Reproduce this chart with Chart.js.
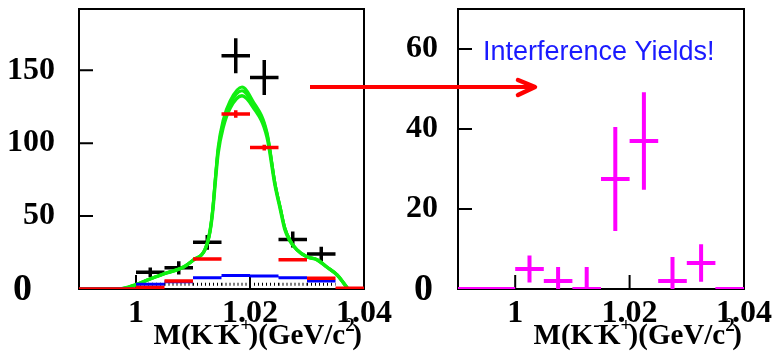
<!DOCTYPE html>
<html>
<head>
<meta charset="utf-8">
<script src="https://cdn.jsdelivr.net/npm/chart.js@4.4.0/dist/chart.umd.min.js"></script>
<style>
  html, body { margin: 0; padding: 0; background: #fff; }
  #wrap { position: relative; width: 776px; height: 351px; overflow: hidden; }
  #left { position: absolute; left: 0; top: 0; }
  #right { position: absolute; left: 388px; top: 0; }
  #arrow { position: absolute; left: 0; top: 0; pointer-events: none; }
</style>
</head>
<body>
<div id="wrap">
  <canvas id="left" width="420" height="351"></canvas>
  <canvas id="right" width="388" height="351"></canvas>
  <svg id="arrow" width="776" height="351">
    <line x1="310" y1="87" x2="532" y2="87" stroke="#ff0000" stroke-width="4"/>
    <polyline points="518,80 535,87 518,95" fill="none" stroke="#ff0000" stroke-width="4.5" stroke-linejoin="round" stroke-linecap="round"/>
  </svg>
</div>
<script>
// bins of M(K-K+), 5 MeV wide
const binCenters = [0.9925, 0.9975, 1.0025, 1.0075, 1.0125, 1.0175, 1.0225, 1.0275, 1.0325, 1.0375];
const binHalf = 0.0025;

// left panel
const dataCounts = [null, null, 11.5, 14.5, 32, 160, 145, 34, 24, null];
const dataErrors = [0, 0, 3.2, 4.5, 5, 12, 12, 5.5, 5, 0];
const redYield = [0, 0, 1, 5.5, 20.5, 120, 97, 20, 7.3, 0.5];
const redErrors = [0, 0, 0, 0, 0, 2.5, 2, 0, 0, 0];
const blueYield = [0, 0, 3.2, 5, 7.8, 9.2, 8.9, 7.8, 5.5, null];
const bkgYield = [null, null, 3.3, 3.3, 3.3, 3.3, 3.3, 3.3, 3.3, null];

const fitMass = [0.99, 0.997, 1.0, 1.0025, 1.0054, 1.0083, 1.0101, 1.0121, 1.013, 1.0135, 1.0139, 1.0144,
  1.0153, 1.0165, 1.0186, 1.0205, 1.023, 1.0244, 1.0253, 1.0261, 1.027, 1.0282, 1.030, 1.0318, 1.0335, 1.0353, 1.0372];
const fitHigh = [0, 0, 3, 7, 11, 15, 20, 27, 40, 56, 75, 97,
  116, 129, 138.5, 129, 107, 72, 56, 42, 33.5, 27, 22, 20, 15, 9.6, 0];
const fitMid = [0, 0, 3, 7, 11, 15, 20, 27, 40, 56, 74, 95,
  114, 127, 136, 127, 106, 72, 56, 42, 33.5, 27, 22, 20, 15, 9.6, 0];
const fitLow = [0, 0, 3, 7, 11, 15, 20, 27, 40, 55, 73, 93,
  111, 124, 132.5, 125, 104, 71, 55, 41, 33, 27, 22, 20, 15, 9.6, 0];

// right panel
const interfYield = [0, 0, 5, 2, 0, 27.5, 37, 2, 6.5, 0];
const interfErrors = [0, 0, 3.4, 3.5, 5.5, 13, 12.2, 6, 4.7, 0];

const xTicks = [1, 1.02, 1.04];
const xTickLabels = ['1', '1.02', '1.04'];
const leftYTicks = [0, 50, 100, 150];
const rightYTicks = [0, 20, 40, 60];
const axisTitleParts = [['M(K', false], ['-', true], ['K', false], ['+', true], [')(GeV/c', false], ['2', true], [')', false]];
const noteText = 'Interference Yields!';

// horizontal bar over each bin, plus vertical error bar
function crossPoints(values, errors) {
    const pts = [];
    binCenters.forEach((c, i) => {
        const v = values[i];
        if (v === null) return;
        pts.push({x: c - binHalf, y: v}, {x: c + binHalf, y: v}, {x: c, y: null});
        if (errors && errors[i] > 0) {
            pts.push({x: c, y: v - errors[i]}, {x: c, y: v + errors[i]}, {x: c, y: null});
        }
    });
    return pts;
}

function curvePoints(values) {
    return fitMass.map((m, i) => ({x: m, y: values[i]}));
}

const serif = '"Liberation Serif", "Times New Roman", serif';

const panelDecor = {
    id: 'panelDecor',
    beforeDatasetsDraw(chart, args, opts) {
        const {ctx, chartArea: a} = chart;
        const xs = chart.scales.x, ys = chart.scales.y;
        ctx.save();
        ctx.strokeStyle = '#000';
        ctx.lineWidth = 2;
        ctx.strokeRect(a.left, a.top, a.right - a.left, a.bottom - a.top);
        ctx.beginPath();
        xTicks.forEach(v => {
            const px = xs.getPixelForValue(v);
            ctx.moveTo(px, a.bottom);
            ctx.lineTo(px, a.bottom - 14);
        });
        opts.yTicks.forEach(v => {
            const py = ys.getPixelForValue(v);
            ctx.moveTo(a.left, py);
            ctx.lineTo(a.left + 14, py);
        });
        ctx.stroke();
        ctx.restore();
    },
    afterDraw(chart, args, opts) {
        const {ctx, chartArea: a} = chart;
        const ys = chart.scales.y;
        ctx.save();
        ctx.fillStyle = '#000';
        // zero label, a bit larger like in the original
        ctx.font = 'bold 38px ' + serif;
        ctx.textAlign = 'right';
        ctx.textBaseline = 'middle';
        ctx.fillText('0', a.left - opts.zeroGap, ys.getPixelForValue(0) + 1);

        // axis title with superscripts
        const big = 'bold 29px ' + serif, small = 'bold 19px ' + serif;
        let w = 0;
        axisTitleParts.forEach(([t, sup]) => {
            ctx.font = sup ? small : big;
            w += ctx.measureText(t).width * (sup ? 0.75 : 1);
        });
        let x = a.right - 2 - w;
        ctx.textAlign = 'left';
        ctx.textBaseline = 'alphabetic';
        axisTitleParts.forEach(([t, sup]) => {
            ctx.font = sup ? small : big;
            ctx.fillText(t, x, sup ? 331 : 344);
            x += ctx.measureText(t).width * (sup ? 0.75 : 1);
        });

        if (opts.note) {
            ctx.font = '27px "Liberation Sans", Arial, sans-serif';
            ctx.fillStyle = '#1a1aff';
            ctx.fillText(opts.note, a.left + 25, a.top + 51);
        }
        ctx.restore();
    }
};

function makeOptions(yMax, yTicks, yWidth, rightPad, zeroGap, note) {
    return {
        responsive: false,
        animation: false,
        layout: { padding: { top: 9, right: rightPad, bottom: 0, left: 0 } },
        plugins: {
            legend: { display: false },
            tooltip: { enabled: false },
            panelDecor: { yTicks: yTicks, zeroGap: zeroGap, note: note }
        },
        elements: { point: { radius: 0 } },
        scales: {
            x: {
                type: 'linear',
                min: 0.99,
                max: 1.04,
                grid: { display: false, drawTicks: false },
                border: { display: false },
                afterBuildTicks: s => { s.ticks = xTicks.map(v => ({value: v})); },
                afterFit: s => { s.height = 62; s.paddingLeft = 0; s.paddingRight = 0; },
                ticks: {
                    padding: 6,
                    color: '#000',
                    maxRotation: 0,
                    autoSkip: false,
                    font: { family: serif, size: 32, weight: 'bold' },
                    callback: (v, i) => xTickLabels[i]
                }
            },
            y: {
                min: 0,
                max: yMax,
                grid: { display: false, drawTicks: false },
                border: { display: false },
                afterBuildTicks: s => { s.ticks = yTicks.map(v => ({value: v})); },
                afterFit: s => { s.width = yWidth; s.paddingTop = 0; s.paddingBottom = 0; },
                ticks: {
                    padding: yWidth === 79 ? 24 : 20,
                    color: '#000',
                    font: { family: serif, size: 32, weight: 'bold' },
                    callback: v => v === 0 ? '' : String(v)
                }
            }
        }
    };
}

function lineSet(data, color, width, extra) {
    return Object.assign({
        data: data,
        borderColor: color,
        borderWidth: width,
        pointRadius: 0,
        spanGaps: false,
        tension: 0,
        fill: false
    }, extra || {});
}

// first dataset is drawn on top
new Chart(document.getElementById('left'), {
    type: 'line',
    data: {
        datasets: [
            lineSet(crossPoints(redYield, redErrors), '#ff0000', 3.5),
            lineSet(crossPoints(blueYield), '#0000ff', 3),
            lineSet(curvePoints(fitHigh), '#11ee11', 3, { cubicInterpolationMode: 'monotone' }),
            lineSet(curvePoints(fitMid), '#11ee11', 3, { cubicInterpolationMode: 'monotone' }),
            lineSet(curvePoints(fitLow), '#11ee11', 3.5, { cubicInterpolationMode: 'monotone' }),
            lineSet(crossPoints(dataCounts, dataErrors), '#000000', 3.5),
            lineSet(crossPoints(bkgYield), '#000000', 3, { borderDash: [1, 3] })
        ]
    },
    options: makeOptions(192, leftYTicks, 79, 420 - 364, 47, null),
    plugins: [panelDecor]
});

new Chart(document.getElementById('right'), {
    type: 'line',
    data: {
        datasets: [
            lineSet(crossPoints(interfYield, interfErrors), '#ff00ff', 4)
        ]
    },
    options: makeOptions(70, rightYTicks, 70, 388 - 356, 25, noteText),
    plugins: [panelDecor]
});
</script>
</body>
</html>
